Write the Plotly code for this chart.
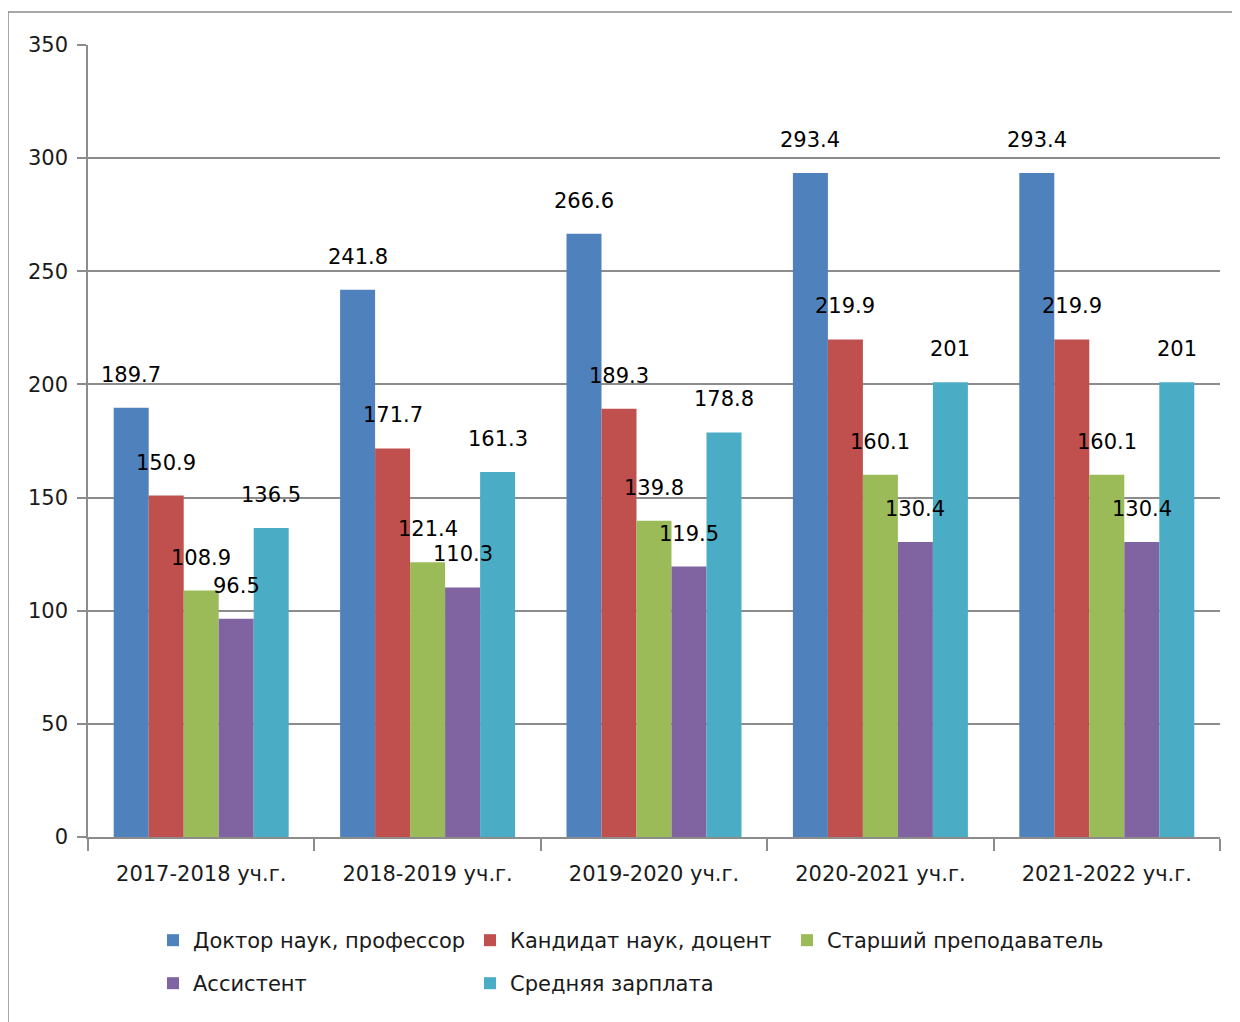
import plotly.graph_objects as go

categories = ["2017-2018 уч.г.", "2018-2019 уч.г.", "2019-2020 уч.г.", "2020-2021 уч.г.", "2021-2022 уч.г."]
series_names = ["Доктор наук, профессор", "Кандидат наук, доцент", "Старший преподаватель", "Ассистент", "Средняя зарплата"]
professor = [189.7, 241.8, 266.6, 293.4, 293.4]
docent = [150.9, 171.7, 189.3, 219.9, 219.9]
senior = [108.9, 121.4, 139.8, 160.1, 160.1]
assistant = [96.5, 110.3, 119.5, 130.4, 130.4]
average = [136.5, 161.3, 178.8, 201, 201]
colors = ["#4F81BD", "#C0504D", "#9BBB59", "#8064A2", "#4BACC6"]
y_ticks = [0, 50, 100, 150, 200, 250, 300, 350]

FONT = "DejaVu Sans"
FS = 21
# page body has 8px margin; figure placed at (8, 8) in the window
W, H = 1232, 1014
ML, MR, MT, MB = 80, 20, 37, 185
PW = W - ML - MR
PH = H - MT - MB
BARGAP = 0.227
n_series = 5
bar_px = PW / len(categories) * (1 - BARGAP) / n_series

all_series = [professor, docent, senior, assistant, average]
fig = go.Figure()
for i, (name, vals, col) in enumerate(zip(series_names, all_series, colors)):
    fig.add_trace(go.Bar(
        x=categories, y=vals, name=name, marker=dict(color=col, line=dict(width=0)),
        legend="legend" if i < 3 else "legend2",
    ))

annotations = []
for i, vals in enumerate(all_series):
    for c, v in zip(categories, vals):
        annotations.append(dict(
            x=c, y=v, xref="x", yref="y", text=f"{v:g}", showarrow=False,
            xshift=(i - (n_series - 1) / 2) * bar_px, yshift=33,
            yanchor="middle", xanchor="center",
            font=dict(family=FONT, size=FS, color="#000000"),
        ))

leg_common = dict(orientation="h", x=(153 - 88) / PW, xanchor="left", yanchor="top",
                  entrywidth=272, entrywidthmode="pixels", bgcolor="rgba(0,0,0,0)",
                  font=dict(family=FONT, size=FS, color="#1a1a1a"))
LEG_Y = -0.096 - 7 / PH
fig.update_layout(
    width=W, height=H,
    margin=dict(l=ML, r=MR, t=MT, b=MB, autoexpand=False),
    paper_bgcolor="white", plot_bgcolor="white",
    barmode="group", bargap=BARGAP, bargroupgap=0,
    font=dict(family=FONT, size=FS, color="#1a1a1a"),
    showlegend=True,
    legend=dict(y=LEG_Y, **leg_common),
    legend2=dict(y=LEG_Y - 43 / PH, **leg_common),
    annotations=annotations,
)
fig.update_yaxes(range=[0, 350], tickvals=y_ticks, showgrid=True, gridcolor="#8c8c8c", gridwidth=1.5,
                 showline=True, linecolor="#8c8c8c", linewidth=1.5, ticks="outside", ticklen=9,
                 tickcolor="#8c8c8c", tickwidth=1.5, zeroline=False, ticklabelstandoff=5, fixedrange=True)
fig.update_xaxes(showline=True, linecolor="#8c8c8c", linewidth=1.5, ticks="outside", ticklen=12,
                 tickcolor="#8c8c8c", tickwidth=1.5, tickson="boundaries", ticklabelstandoff=17,
                 showgrid=False)

# outer chart frame
fig.add_shape(type="rect", xref="paper", yref="paper",
              x0=(0 - ML) / PW, x1=(W + 20 - ML) / PW,
              y0=(MT + PH - (H + 20)) / PH, y1=1 + (MT - 4) / PH,
              line=dict(color="#8c8c8c", width=1.5), layer="below")

fig.write_html("out.html")
